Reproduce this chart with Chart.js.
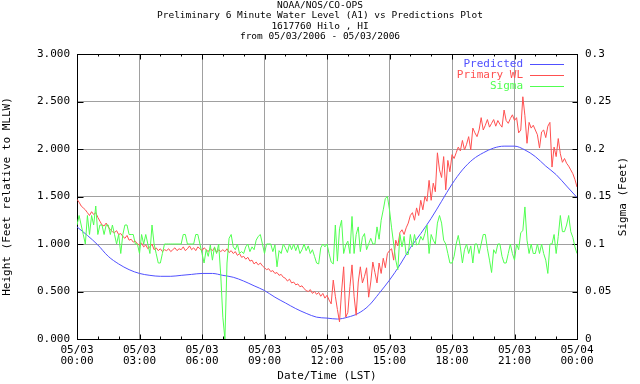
<!DOCTYPE html>
<html>
<head>
<meta charset="utf-8">
<title>Preliminary 6 Minute Water Level (A1) vs Predictions Plot</title>
<script src="https://cdn.jsdelivr.net/npm/chart.js@4/dist/chart.umd.min.js"></script>
<style>
  html, body { margin: 0; padding: 0; background: #ffffff; }
  #wrap { width: 640px; height: 384px; }
</style>
</head>
<body>
<div id="wrap"><canvas id="waterChart" width="640" height="384"></canvas></div>
<script>
/*******************************************
 * DATA (05/03/2006)
 *******************************************/

const titleLines = [
  "NOAA/NOS/CO-OPS",
  "Preliminary 6 Minute Water Level (A1) vs Predictions Plot",
  "1617760 Hilo , HI",
  "from 05/03/2006 - 05/03/2006",
];

// x tick labels, one every 3 hours
const tickDates = ["05/03", "05/03", "05/03", "05/03", "05/03", "05/03", "05/03", "05/03", "05/04"];
const tickTimes = ["00:00", "03:00", "06:00", "09:00", "12:00", "15:00", "18:00", "21:00", "00:00"];

// Primary WL, one value every 6 minutes (feet, MLLW)
const primaryWL = [
  1.47, 1.44, 1.40, 1.38, 1.36, 1.33, 1.30, 1.34, 1.31, 1.33,
  1.28, 1.24, 1.20, 1.19, 1.22, 1.18, 1.15, 1.13, 1.12, 1.14,
  1.10, 1.11, 1.08, 1.06, 1.09, 1.04, 1.05, 1.02, 1.03, 1.00,
  0.99, 1.01, 0.97, 0.99, 0.95, 0.97, 1.00, 0.94, 0.96, 0.93,
  0.95, 0.92, 0.94, 0.93, 0.95, 0.92, 0.94, 0.96, 0.93, 0.95,
  0.94, 0.97, 0.93, 0.95, 0.98, 0.94, 0.96, 0.93, 0.97, 0.95,
  0.93, 0.96, 0.94, 0.92, 0.95, 0.93, 0.96, 0.91, 0.94, 0.92,
  0.94, 0.92, 0.95, 0.91, 0.93, 0.90, 0.92, 0.88, 0.90, 0.86,
  0.87, 0.84, 0.86, 0.82, 0.83, 0.79, 0.81, 0.78, 0.80, 0.77,
  0.75, 0.73, 0.74, 0.71, 0.72, 0.69, 0.70, 0.67, 0.68, 0.65,
  0.64, 0.61, 0.63, 0.59, 0.60, 0.57, 0.58, 0.55, 0.56, 0.53,
  0.51, 0.50, 0.52, 0.48, 0.50, 0.47, 0.49, 0.45, 0.48, 0.43,
  0.46, 0.41, 0.37, 0.62, 0.45, 0.31, 0.18, 0.50, 0.76, 0.23,
  0.28, 0.55, 0.78, 0.45, 0.25, 0.60, 0.76, 0.59, 0.66, 0.75,
  0.44, 0.60, 0.81, 0.70, 0.59, 0.80, 0.69, 0.85, 0.75, 0.90,
  0.93, 0.95, 0.83, 1.04, 0.98, 1.12, 1.15, 1.10, 1.17, 1.22,
  1.30, 1.33, 1.25, 1.38, 1.30, 1.46, 1.36, 1.50, 1.45, 1.67,
  1.46, 1.64, 1.55, 1.96, 1.78, 1.70, 1.92, 1.57, 1.88, 1.76,
  1.94, 1.90, 1.96, 2.02, 1.98, 2.09, 1.99, 2.05, 2.13, 1.99,
  2.22, 2.17, 2.13, 2.20, 2.33, 2.20, 2.25, 2.31, 2.23, 2.27,
  2.31, 2.24, 2.30, 2.26, 2.23, 2.41, 2.30, 2.27, 2.32, 2.36,
  2.30, 2.33, 2.17, 2.20, 2.55, 2.35, 2.06, 2.28, 2.22, 2.25,
  2.20, 2.15, 2.01, 2.18, 2.20, 2.12, 2.24, 2.28, 1.81, 2.02,
  1.92, 2.11, 1.95, 1.86, 1.90, 1.85, 1.82, 1.78, 1.74, 1.68,
  1.60,
];

// Sigma, one value every 6 minutes (feet, right axis)
const sigma = [
  0.12, 0.13, 0.12, 0.11, 0.10, 0.13, 0.11, 0.13, 0.12, 0.14,
  0.11, 0.12, 0.12, 0.11, 0.12, 0.12, 0.11, 0.12, 0.11, 0.10,
  0.11, 0.09, 0.11, 0.12, 0.12, 0.11, 0.11, 0.11, 0.10, 0.10,
  0.09, 0.11, 0.10, 0.11, 0.10, 0.09, 0.12, 0.10, 0.09, 0.08,
  0.08, 0.09, 0.10, 0.10, 0.10, 0.10, 0.10, 0.10, 0.10, 0.10,
  0.10, 0.11, 0.11, 0.10, 0.10, 0.10, 0.10, 0.11, 0.11, 0.10,
  0.09, 0.08, 0.094, 0.087, 0.099, 0.083, 0.097, 0.09, 0.10, 0.067,
  0.023, 0.0, 0.08, 0.106, 0.11, 0.097, 0.094, 0.10, 0.09, 0.092,
  0.09, 0.097, 0.10, 0.092, 0.097, 0.094, 0.104, 0.108, 0.11, 0.10,
  0.09, 0.10, 0.10, 0.10, 0.092, 0.099, 0.076, 0.093, 0.09, 0.10,
  0.096, 0.091, 0.10, 0.094, 0.10, 0.093, 0.099, 0.09, 0.094, 0.10,
  0.093, 0.098, 0.09, 0.094, 0.087, 0.08, 0.079, 0.096, 0.10, 0.097,
  0.10, 0.09, 0.081, 0.079, 0.12, 0.082, 0.116, 0.125, 0.09, 0.099,
  0.103, 0.09, 0.129, 0.09, 0.11, 0.118, 0.092, 0.107, 0.111, 0.094,
  0.10, 0.106, 0.10, 0.10, 0.118, 0.105, 0.125, 0.136, 0.148, 0.15,
  0.136, 0.117, 0.10, 0.083, 0.073, 0.11, 0.097, 0.108, 0.089, 0.089,
  0.11, 0.097, 0.11, 0.099, 0.10, 0.108, 0.104, 0.111, 0.12, 0.09,
  0.11, 0.104, 0.10, 0.122, 0.13, 0.122, 0.104, 0.10, 0.09, 0.08,
  0.08, 0.087, 0.10, 0.109, 0.097, 0.08, 0.094, 0.10, 0.09, 0.098,
  0.08, 0.10, 0.10, 0.09, 0.10, 0.11, 0.11, 0.095, 0.083, 0.07,
  0.094, 0.09, 0.10, 0.10, 0.087, 0.08, 0.08, 0.09, 0.10, 0.09,
  0.083, 0.10, 0.094, 0.112, 0.114, 0.139, 0.104, 0.09, 0.10, 0.09,
  0.09, 0.10, 0.09, 0.10, 0.09, 0.083, 0.069, 0.10, 0.10, 0.11,
  0.09, 0.108, 0.13, 0.113, 0.113, 0.12, 0.13, 0.113, 0.107, 0.097,
  0.09,
];

// Predicted tide, one value every 30 minutes
const predicted = [
  1.18, 1.09, 0.99, 0.87, 0.79, 0.73, 0.69, 0.67, 0.66, 0.66,
  0.67, 0.68, 0.69, 0.69, 0.67, 0.65, 0.61, 0.56, 0.51, 0.44,
  0.38, 0.32, 0.27, 0.23, 0.22, 0.21, 0.23, 0.27, 0.35, 0.48,
  0.62, 0.78, 0.96, 1.11, 1.27, 1.45, 1.63, 1.78, 1.89, 1.96,
  2.01, 2.03, 2.03, 1.99, 1.92, 1.82, 1.73, 1.61, 1.49,
];

const wlStepHours = 0.1; // 6 minutes
const predStepHours = 0.5;

/*******************************************
 * STYLE
 *******************************************/

const FONT = "'DejaVu Sans Mono', 'Liberation Mono', monospace";
const gridColor = "#a0a0a0";
const colors = {
  predicted: "#5050ff",
  primary: "#ff5050",
  sigma: "#50ff50",
};

function toPoints(values, step) {
  return values.map((v, i) => ({ x: i * step, y: v }));
}

/*******************************************
 * PLUGINS: frame, inward ticks, legend, right title
 *******************************************/

const framePlugin = {
  id: "frame",
  beforeDatasetsDraw(chart) {
    const { ctx, chartArea } = chart;
    const xs = chart.scales.x;
    const yl = chart.scales.y;
    const l = chartArea.left + 0.5;
    const r = chartArea.right + 0.5;
    const t = chartArea.top + 0.5;
    const b = chartArea.bottom + 0.5;

    ctx.save();
    ctx.strokeStyle = "#000000";
    ctx.lineWidth = 1;
    ctx.beginPath();

    // hourly ticks along top and bottom
    for (let h = 0; h <= 24; h++) {
      const px = Math.round(xs.getPixelForValue(h)) + 0.5;
      const major = h % 3 === 0;
      ctx.moveTo(px, b);
      ctx.lineTo(px, b - (major ? 5 : 3));
      ctx.moveTo(px, t);
      ctx.lineTo(px, t + (major ? 5 : 2));
    }
    // left and right ticks
    for (let v = 0; v <= 3.0001; v += 0.5) {
      const py = Math.round(yl.getPixelForValue(v)) + 0.5;
      ctx.moveTo(l, py);
      ctx.lineTo(l + 6, py);
      ctx.moveTo(r, py);
      ctx.lineTo(r - 5, py);
    }
    ctx.stroke();
    ctx.strokeRect(l, t, r - l, b - t);
    ctx.restore();
  },
  afterDraw(chart) {
    const { ctx, chartArea } = chart;
    ctx.save();
    ctx.font = "11px " + FONT;
    ctx.fillStyle = "#000000";
    ctx.textAlign = "center";
    ctx.textBaseline = "middle";
    ctx.translate(623, (chartArea.top + chartArea.bottom) / 2);
    ctx.rotate(-Math.PI / 2);
    ctx.fillText("Sigma (Feet)", 0, 0);
    ctx.restore();
  },
};

const legendPlugin = {
  id: "sideLegend",
  afterDatasetsDraw(chart) {
    const { ctx } = chart;
    const items = [0, 1, 2].map((i) => chart.data.datasets[i]);
    ctx.save();
    ctx.font = "11px " + FONT;
    ctx.textAlign = "right";
    ctx.textBaseline = "middle";
    items.forEach((ds, i) => {
      const y = 64 + i * 11;
      ctx.fillStyle = ds.borderColor;
      ctx.fillText(ds.label, 523, y);
      ctx.strokeStyle = ds.borderColor;
      ctx.lineWidth = 1;
      ctx.beginPath();
      ctx.moveTo(530, y + 0.5);
      ctx.lineTo(564, y + 0.5);
      ctx.stroke();
    });
    ctx.restore();
  },
};

/*******************************************
 * CHART
 *******************************************/

const ctx = document.getElementById("waterChart");

new Chart(ctx, {
  type: "line",
  data: {
    datasets: [
      {
        label: "Predicted",
        data: toPoints(predicted, predStepHours),
        yAxisID: "y",
        borderColor: colors.predicted,
        borderWidth: 1,
        pointRadius: 0,
        cubicInterpolationMode: "monotone",
        order: 2,
      },
      {
        label: "Primary WL",
        data: toPoints(primaryWL, wlStepHours),
        yAxisID: "y",
        borderColor: colors.primary,
        borderWidth: 1,
        pointRadius: 0,
        tension: 0,
        order: 1,
      },
      {
        label: "Sigma",
        data: toPoints(sigma, wlStepHours),
        yAxisID: "y1",
        borderColor: colors.sigma,
        borderWidth: 1,
        pointRadius: 0,
        tension: 0,
        order: 0,
      },
    ],
  },
  options: {
    responsive: false,
    animation: false,
    devicePixelRatio: 1,
    layout: { padding: 0 },
    plugins: {
      legend: { display: false },
      tooltip: { enabled: false },
      title: {
        display: true,
        text: titleLines,
        color: "#000000",
        font: { family: FONT, size: 9.5, weight: "normal", lineHeight: "10.5px" },
        padding: { top: 0, bottom: 12 },
      },
    },
    scales: {
      x: {
        type: "linear",
        min: 0,
        max: 24,
        grid: { color: gridColor, drawTicks: false },
        border: { display: false },
        ticks: {
          stepSize: 3,
          autoSkip: false,
          maxRotation: 0,
          padding: 6,
          color: "#000000",
          font: { family: FONT, size: 11, lineHeight: 1 },
          callback: (v) => {
            const i = Math.round(v / 3);
            return [tickDates[i], tickTimes[i]];
          },
        },
        title: {
          display: true,
          text: "Date/Time (LST)",
          color: "#000000",
          font: { family: FONT, size: 11, lineHeight: 1 },
          padding: { top: 0, bottom: 2 },
        },
        afterFit: (scale) => {
          scale.height = 45;
        },
      },
      y: {
        position: "left",
        min: 0,
        max: 3,
        grid: { color: gridColor, drawTicks: false },
        border: { display: false },
        ticks: {
          stepSize: 0.5,
          padding: 7,
          color: "#000000",
          font: { family: FONT, size: 11 },
          callback: (v) => v.toFixed(3),
        },
        title: {
          display: true,
          text: "Height (Feet relative to MLLW)",
          color: "#000000",
          font: { family: FONT, size: 11, lineHeight: 1 },
          padding: { top: 2, bottom: 0 },
        },
        afterFit: (scale) => {
          scale.width = 77;
        },
      },
      y1: {
        position: "right",
        min: 0,
        max: 0.3,
        grid: { display: false, drawTicks: false },
        border: { display: false },
        ticks: {
          stepSize: 0.05,
          padding: 8,
          color: "#000000",
          font: { family: FONT, size: 11 },
          callback: (v) => String(parseFloat(v.toFixed(2))),
        },
        afterFit: (scale) => {
          scale.width = 63;
        },
      },
    },
  },
  plugins: [framePlugin, legendPlugin],
});
</script>
</body>
</html>
